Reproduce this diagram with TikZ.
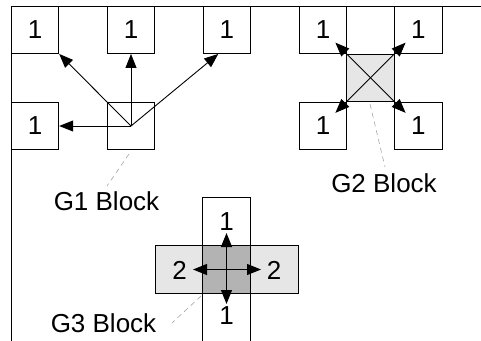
\documentclass[tikz,border=0pt]{standalone}
\usepackage{fontspec}
\setmainfont{Liberation Sans}
\usetikzlibrary{arrows.meta,calc}
\definecolor{lightg}{HTML}{E6E6E6}
\definecolor{darkg}{HTML}{B3B3B3}
\tikzset{
  cell/.style={draw, line width=0.9pt, minimum width=47.5pt, minimum height=47.5pt, inner sep=0pt, font=\fontsize{26}{30}\selectfont},
  lbl/.style={inner sep=0pt, font=\fontsize{26}{30}\selectfont},
  arr/.style={line width=0.9pt, -{Triangle[length=14pt,width=11pt]}},
  leader/.style={draw=gray!70, line width=0.6pt, dash pattern=on 5pt off 4pt},
}
\begin{document}
\begin{tikzpicture}[x=1pt,y=-1pt]
\clip (0,0) rectangle (481,340);
\fill[white] (0,0) rectangle (481,340);
% frame
\draw[line width=0.9pt] (11,345) -- (11,6) -- (485,6);
% G1
\node[cell] (a1) at (35,29.75) {1};
\node[cell] (a2) at (131,29.75) {1};
\node[cell] (a3) at (226.75,29.75) {1};
\node[cell] (a4) at (35,126) {1};
\node[cell] (ac) at (131,126) {};
\coordinate (a3t) at ([xshift=-8.5pt]a3.south);
\draw[arr] (ac.center) -- (a4.east);
\draw[arr] (ac.center) -- (a2.south);
\draw[arr] (ac.center) -- (a1.south east);
\draw[arr] (ac.center) -- (a3t);
\coordinate (g1s) at (129,154);
\coordinate (g1e) at (107,186);
\draw[leader] (g1s) -- (g1e);
\node[lbl] (g1) at (106.5,201) {G1 Block};
% G2
\node[cell] (b1) at (323,29.75) {1};
\node[cell] (b2) at (418.25,29.75) {1};
\node[cell, fill=lightg] (bc) at (370.5,77.75) {};
\node[cell] (b3) at (323,126) {1};
\node[cell] (b4) at (418.25,126) {1};
\draw[arr] (bc.center) -- ($(bc.center)!1.45!(bc.north west)$);
\draw[arr] (bc.center) -- ($(bc.center)!1.45!(bc.north east)$);
\draw[arr] (bc.center) -- ($(bc.center)!1.45!(bc.south west)$);
\draw[arr] (bc.center) -- ($(bc.center)!1.45!(bc.south east)$);
\coordinate (g2s) at (370,104);
\coordinate (g2e) at (385,167);
\draw[leader] (g2s) -- (g2e);
\node[lbl] (g2) at (384,183) {G2 Block};
% G3
\node[cell, fill=white, minimum height=160pt, anchor=north] (cv) at (226.5,197) {};
\node[cell, fill=lightg, minimum width=143pt] (ch) at (226.5,269.5) {};
\node[cell, fill=darkg] (cc) at (226.5,269.5) {};
\draw[arr] (cc.center) -- ++(0,-36.5);
\draw[arr] (cc.center) -- ++(0,34.5);
\draw[arr] (cc.center) -- ++(-33.5,0);
\draw[arr] (cc.center) -- ++(34.5,0);
\node[lbl] (u1) at (226.5,221.5) {1};
\node[lbl] (d1) at (226.5,316) {1};
\node[lbl] (l2) at (179.5,270) {2};
\node[lbl] (r2) at (274,270) {2};
\coordinate (g3s) at (201,296);
\coordinate (g3e) at (172,323);
\draw[leader] (g3s) -- (g3e);
\node[lbl] (g3) at (103.5,323) {G3 Block};
\end{tikzpicture}
\end{document}
